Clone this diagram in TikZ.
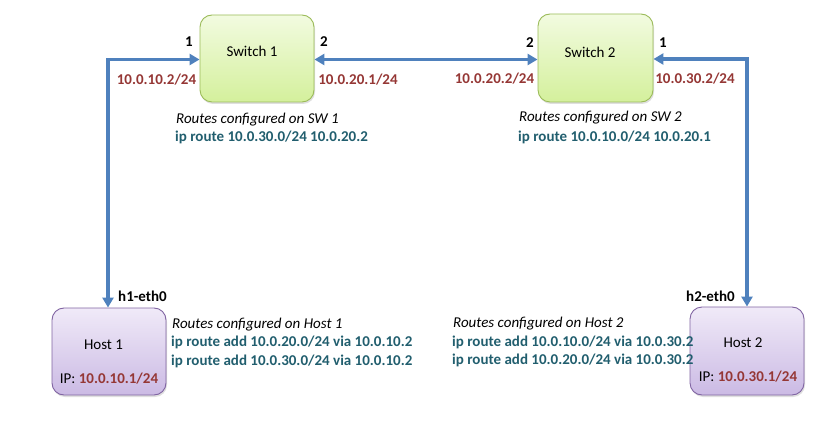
\documentclass[tikz,border=0pt]{standalone}
\usepackage{fontspec}
\setmainfont{Carlito}
\usetikzlibrary{arrows.meta,shadows,positioning}
\definecolor{ipred}{HTML}{953735}
\definecolor{cmdteal}{HTML}{215E6E}
\definecolor{linkblue}{HTML}{4F81BD}
\definecolor{swborder}{HTML}{9BBB59}
\definecolor{swtop}{HTML}{F2FBE0}
\definecolor{swbot}{HTML}{D4F09C}
\definecolor{hborder}{HTML}{8064A2}
\definecolor{htop}{HTML}{F0EAF8}
\definecolor{hbot}{HTML}{CBBAE4}
\tikzset{
  devbox/.style={rectangle, rounded corners=12pt, line width=0.9pt, inner sep=0pt,
    drop shadow={shadow xshift=1pt, shadow yshift=-2pt, opacity=0.25}},
  swbox/.style={devbox, draw=swborder, top color=swtop, bottom color=swbot,
    minimum width=114pt, minimum height=87pt},
  hostbox/.style={devbox, draw=hborder, top color=htop, bottom color=hbot,
    minimum width=114pt, minimum height=87pt},
  txt/.style={inner sep=0pt, font=\fontsize{15}{18}\selectfont},
  port/.style={txt, font=\fontsize{15}{18}\selectfont\bfseries},
  ipaddr/.style={txt, font=\fontsize{15}{18}\selectfont\bfseries, text=ipred},
  cmd/.style={txt, font=\fontsize{15}{18}\selectfont\bfseries, text=cmdteal, anchor=west},
  note/.style={txt, font=\fontsize{15}{18}\selectfont\itshape, anchor=west},
  link/.style={draw=linkblue, line width=3.5pt, {Triangle[length=10pt,width=11pt]}-{Triangle[length=10pt,width=11pt]}, color=linkblue}
}
\begin{document}
\begin{tikzpicture}[x=1pt,y=-1pt]
\useasboundingbox (0,0) rectangle (834,430);
% devices
\node[swbox] (sw1) at (257,58.5) {};
\node[swbox, minimum width=115pt, minimum height=88pt] (sw2) at (595.5,58) {};
\node[hostbox] (h1) at (109,351.5) {};
\node[hostbox, minimum height=88pt] (h2) at (747,351) {};
% device labels
\node[txt] (sw1l) at (252,51) {Switch 1};
\node[txt] (sw2l) at (590,52) {Switch 2};
\node[txt] (h1l) at (103.5,345) {Host 1};
\node[txt] (h2l) at (743,343) {Host 2};
\node[txt] (h1ip) at (109,379) {IP: \textbf{\textcolor{ipred}{10.0.10.1/24}}};
\node[txt] (h2ip) at (748,377) {IP: \textbf{\textcolor{ipred}{10.0.30.1/24}}};
% links
\coordinate (c1) at (108,59.5);
\coordinate (c2) at (747,59);
\draw[link] (h1.north -| c1) -- (c1) -- (c1 -| sw1.west);
\draw[link] (sw1.east |- 0,59.5) -- (sw2.west |- 0,59.5);
\draw[link] (c2 -| sw2.east) -- (c2) -- (h2.north -| c2);
% ports
\node[port] (p11) at (189,42) {1};
\node[port] (p12) at (324,42) {2};
\node[port] (p22) at (530,43) {2};
\node[port] (p21) at (663,43) {1};
\node[ipaddr] (ip1) at (156.5,80) {10.0.10.2/24};
\node[ipaddr] (ip2) at (358,80) {10.0.20.1/24};
\node[ipaddr] (ip3) at (494.5,79) {10.0.20.2/24};
\node[ipaddr] (ip4) at (695,79) {10.0.30.2/24};
\node[port, anchor=west] (e1) at (118,296) {h1-eth0};
\node[port, anchor=west] (e2) at (686,296) {h2-eth0};
% routes
\node[note] (n1) at (176,120) {Routes configured on SW 1};
\node[cmd] (r1) at (175,137) {ip route 10.0.30.0/24 10.0.20.2};
\node[note] (n2) at (519,118) {Routes configured on SW 2};
\node[cmd] (r2) at (518,137) {ip route 10.0.10.0/24 10.0.20.1};
\node[note] (n3) at (172,325) {Routes configured on Host 1};
\node[cmd] (r3) at (171,342.5) {ip route add 10.0.20.0/24 via 10.0.10.2};
\node[cmd] (r4) at (171,361) {ip route add 10.0.30.0/24 via 10.0.10.2};
\node[note] (n4) at (453,323.5) {Routes configured on Host 2};
\node[cmd] (r5) at (452,342) {ip route add 10.0.10.0/24 via 10.0.30.2};
\node[cmd] (r6) at (452,360) {ip route add 10.0.20.0/24 via 10.0.30.2};
\end{tikzpicture}
\end{document}
